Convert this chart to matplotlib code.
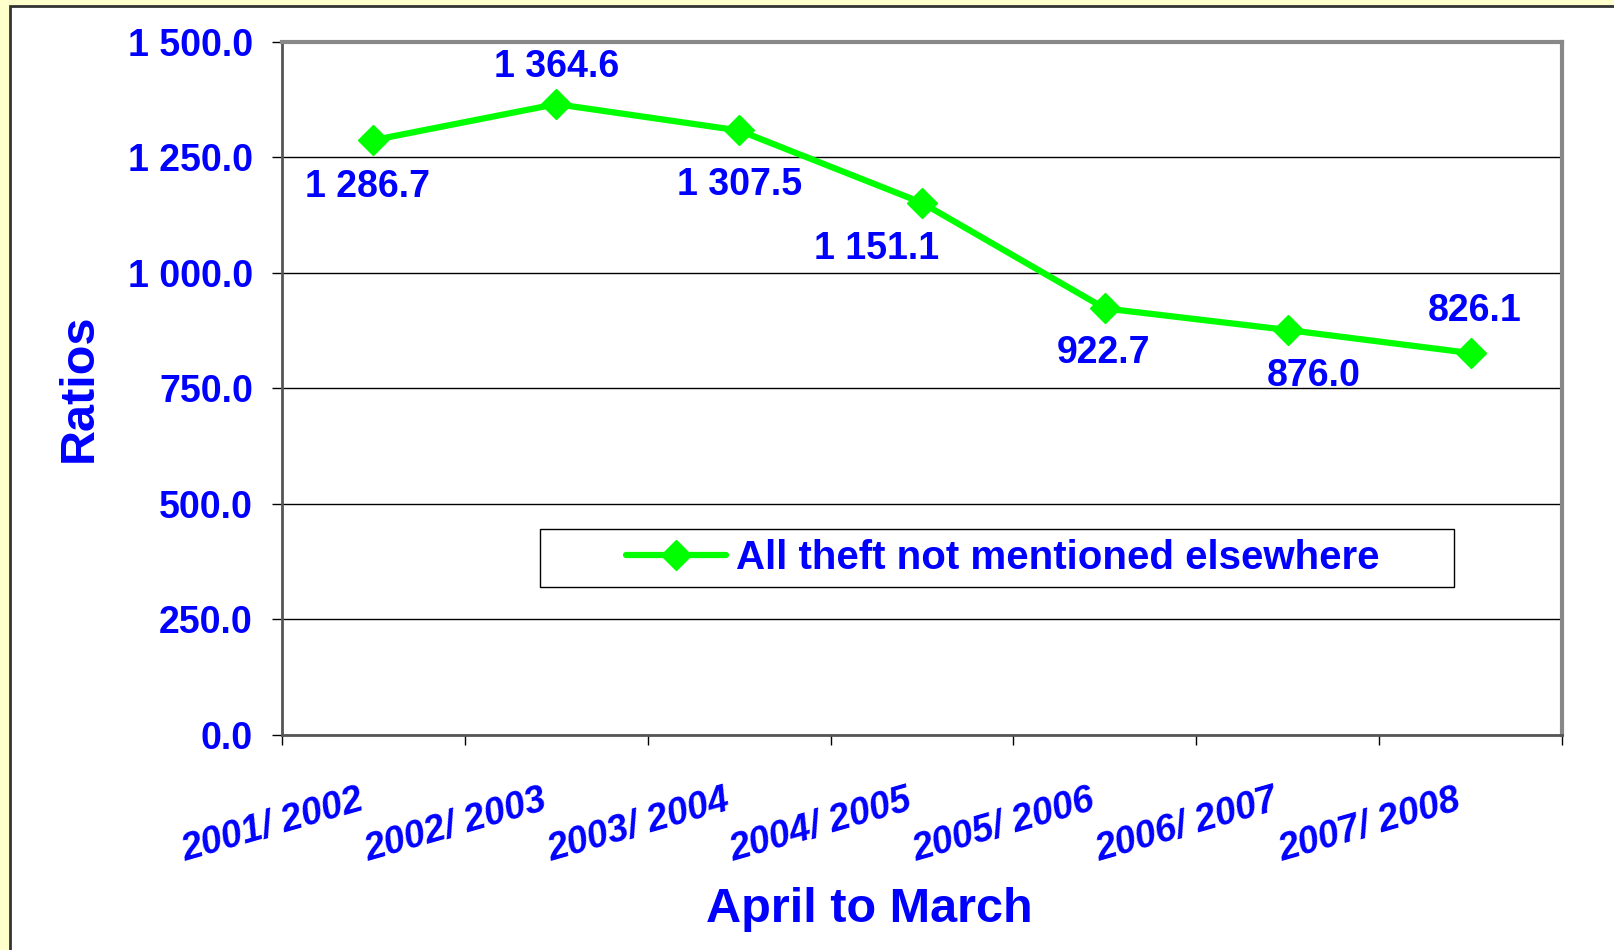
import matplotlib
matplotlib.use("Agg")
import matplotlib.pyplot as plt
from matplotlib.patches import Rectangle

# data
periods = ["2001/ 2002", "2002/ 2003", "2003/ 2004", "2004/ 2005",
           "2005/ 2006", "2006/ 2007", "2007/ 2008"]
ratios = [1286.7, 1364.6, 1307.5, 1151.1, 922.7, 876.0, 826.1]
value_labels = ["1 286.7", "1 364.6", "1 307.5", "1 151.1", "922.7", "876.0", "826.1"]
yticks = [0, 250, 500, 750, 1000, 1250, 1500]
ytick_labels = ["0.0", "250.0", "500.0", "750.0", "1 000.0", "1 250.0", "1 500.0"]
series_name = "All theft not mentioned elsewhere"

# label offsets in points (dx, dy)
offsets = [(-4, -34), (0, 27), (0, -39), (-33, -33), (-1, -32), (19, -33), (3, 30)]

plt.rcParams['font.family'] = ['Liberation Sans', 'DejaVu Sans']
blue = '#0000FF'
green = '#00FF00'

fig = plt.figure(figsize=(16.15, 9.5), dpi=100)
fig.patch.set_facecolor('#FFFFCC')
# white panel with dark border on left/top
fig.patches.append(Rectangle((10 / 1615, -0.01), 1.1, (950 - 6) / 950 + 0.01,
                             transform=fig.transFigure, facecolor='white',
                             edgecolor='#333333', linewidth=2, zorder=-10))

ax = fig.add_axes([282 / 1615, 1 - 735 / 950, 1280 / 1615, 693.5 / 950])
ax.set_facecolor('white')

ax.plot(range(len(ratios)), ratios, color=green, linewidth=4.5, marker='D',
        markersize=15, markerfacecolor=green, markeredgecolor=green,
        label=series_name, zorder=3, solid_capstyle='round')

ax.set_xlim(-0.5, len(ratios) - 0.5)
ax.set_ylim(0, 1500)
ax.set_yticks(yticks)
ax.set_yticklabels(ytick_labels)
ax.grid(axis='y', color='black', linewidth=1)
ax.set_axisbelow(True)

for lab in ax.get_yticklabels():
    lab.set_color(blue)
    lab.set_fontsize(27)
    lab.set_fontweight('bold')
ax.tick_params(axis='y', length=7, width=1, color='black', pad=14)

# category boundaries as ticks
ax.set_xticks([i - 0.5 for i in range(len(ratios) + 1)])
ax.set_xticklabels([])
ax.tick_params(axis='x', length=7, width=1, color='black', direction='out')

for i, p in enumerate(periods):
    ax.annotate(p, xy=(i, 0), xycoords=('data', 'axes fraction'),
                xytext=(-4, -34), textcoords='offset points',
                ha='right', va='top', rotation=16, color=blue,
                fontsize=27, fontweight='bold', fontstyle='italic')

for i, (v, t) in enumerate(zip(ratios, value_labels)):
    dx, dy = offsets[i]
    ax.annotate(t, xy=(i, v), xytext=(dx, dy), textcoords='offset points',
                ha='center', va='center', color=blue, fontsize=27,
                fontweight='bold')

for side in ['top', 'right']:
    ax.spines[side].set_color('#888888')
    ax.spines[side].set_linewidth(3)
for side in ['left', 'bottom']:
    ax.spines[side].set_color('#555555')
    ax.spines[side].set_linewidth(2)

fig.text(79 / 1615, 1 - 388 / 950, "Ratios", rotation=90, ha='center', va='center',
         color=blue, fontsize=35, fontweight='bold')
fig.text(869 / 1615, 1 - 910 / 950, "April to March", ha='center', va='center',
         color=blue, fontsize=35, fontweight='bold')

# legend box
ax.add_patch(Rectangle((0.2016, 0.2134), 0.714, 0.0836, transform=ax.transAxes,
                       facecolor='white', edgecolor='black', linewidth=1, zorder=4))
leg = ax.legend(loc='center', bbox_to_anchor=(0.563, 0.255), frameon=False,
                handlelength=2.5, handletextpad=0.25, borderpad=0,
                prop={'size': 29, 'weight': 'bold'})
leg.set_zorder(5)
for t in leg.get_texts():
    t.set_color(blue)

fig.savefig("out.png", dpi=100, facecolor=fig.get_facecolor())
